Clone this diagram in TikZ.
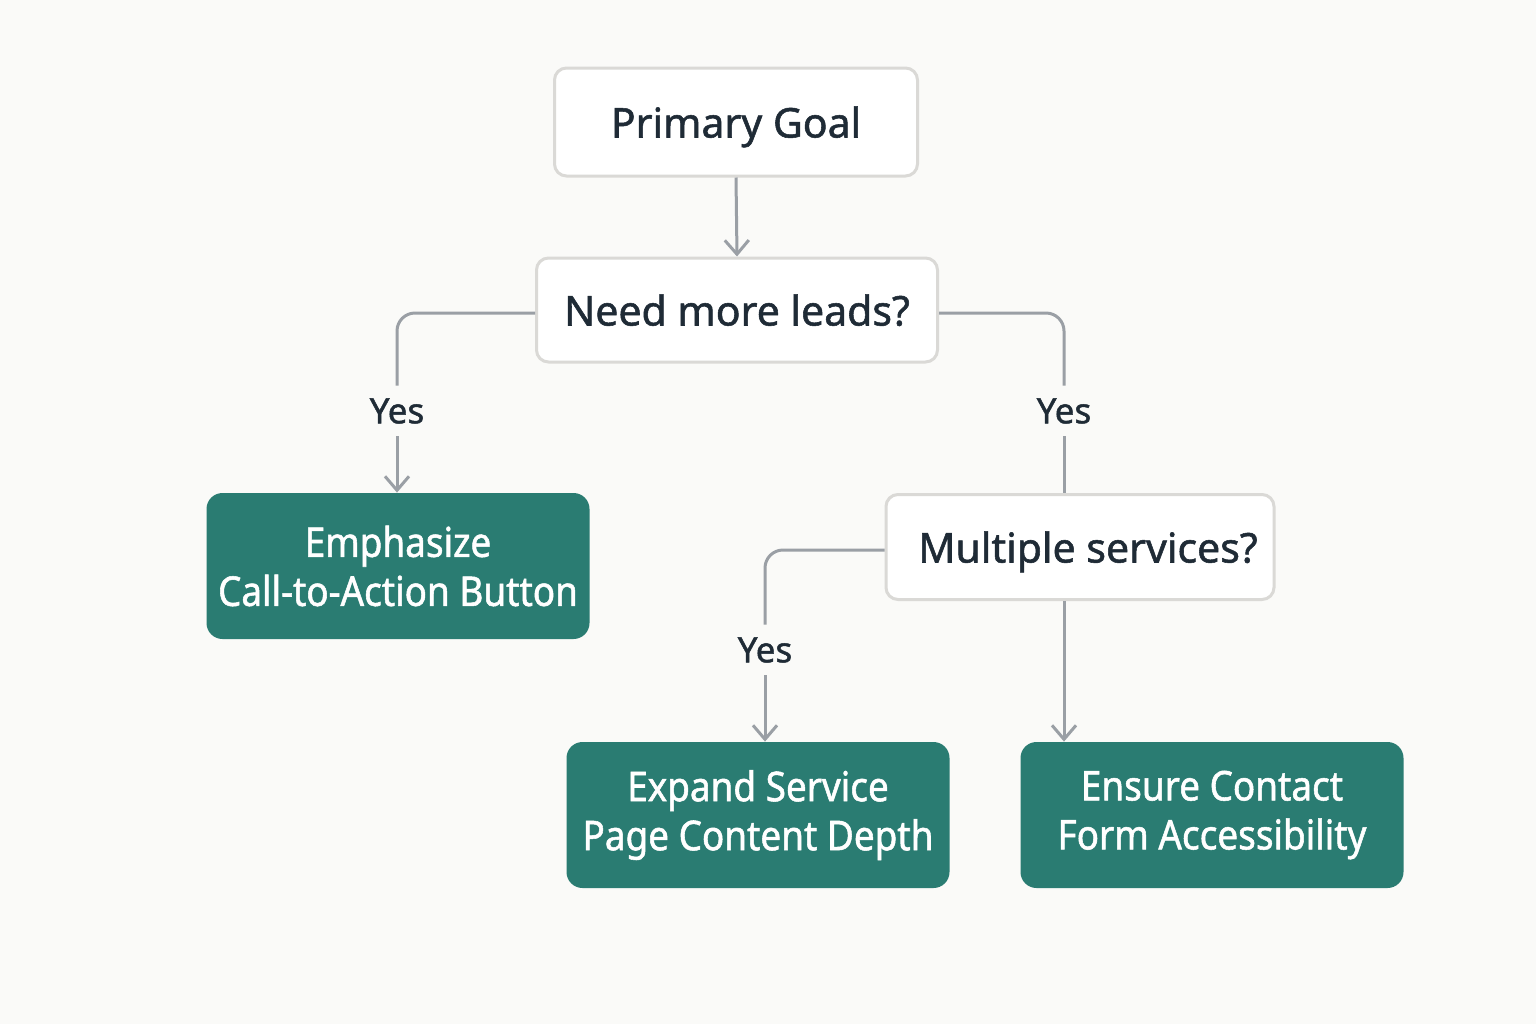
\documentclass[tikz,border=0pt]{standalone}
\usepackage{fontspec}
\setmainfont{Noto Sans}[FakeBold=1.0]
\newfontfamily\qfont[FakeBold=1.3]{Noto Sans}
\newfontfamily\narrowfont[FakeStretch=0.9,FakeBold=1.3]{Noto Sans}
\usetikzlibrary{arrows.meta,positioning}
\definecolor{bgc}{HTML}{FAFAF8}
\definecolor{teal}{HTML}{2A7C72}
\definecolor{txt}{HTML}{1F2B36}
\definecolor{bord}{HTML}{DAD9D6}
\definecolor{conn}{HTML}{9A9FA5}
\tikzset{
  qbox/.style={draw=bord, line width=1.5pt, fill=white, rounded corners=6pt, text=txt, font=\qfont\fontsize{20.5}{24}\selectfont, align=center, inner sep=0pt, text height=15.5pt, text depth=0pt},
  abox/.style={fill=teal, rounded corners=8pt, text=white, font=\narrowfont\fontsize{20.5}{24.5}\selectfont, align=center, inner sep=0pt, minimum width=191.5pt, minimum height=73pt},
  yeslbl/.style={text=txt, font=\qfont\fontsize{17.5}{20}\selectfont, inner sep=0pt, minimum height=25pt},
  link/.style={draw=conn, line width=1.5pt, rounded corners=9pt},
  arr/.style={link, -{Straight Barb[length=7pt,width=12pt,line width=1.5pt]}}
}
\begin{document}
\begin{tikzpicture}[x=0.5pt,y=-0.5pt]
\fill[bgc] (0,0) rectangle (1536,1024);
\useasboundingbox (0,0) rectangle (1536,1024);
\node[qbox, minimum width=181.5pt, minimum height=54pt] (goal) at (736,122) {Primary Goal};
\node[qbox, minimum width=200.5pt, minimum height=52pt] (need) at (737,310) {Need more leads?};
\node[qbox, minimum width=194pt, minimum height=52.5pt] (multi) at (1080,547) {\hspace*{8pt}Multiple services?};
\node[abox] (emph) at (398,566) {Emphasize\\Call-to-Action Button};
\node[abox] (expand) at (758,815) {Expand Service\\Page Content Depth};
\node[abox] (ensure) at (1212,815) {Ensure Contact\\Form Accessibility};
\node[yeslbl] (y1) at (397,411) {Yes};
\node[yeslbl] (y2) at (1064,411) {Yes};
\node[yeslbl] (y3) at (765,650) {Yes};
\draw[arr] (goal.south) -- (need.north);
\draw[link] ([yshift=-1.5]need.west) -| (y1.north);
\draw[arr] (y1.south) -- (y1.south |- emph.north);
\draw[link] ([yshift=-1.5]need.east) -| (y2.north);
\draw[link] (y2.south) -- (y2.south |- multi.north);
\draw[link] ([yshift=-1.5]multi.west) -| (y3.north);
\draw[arr] (y3.south) -- (y3.south |- expand.north);
\draw[arr] (y2.south |- multi.south) -- (y2.south |- ensure.north);
\end{tikzpicture}
\end{document}
